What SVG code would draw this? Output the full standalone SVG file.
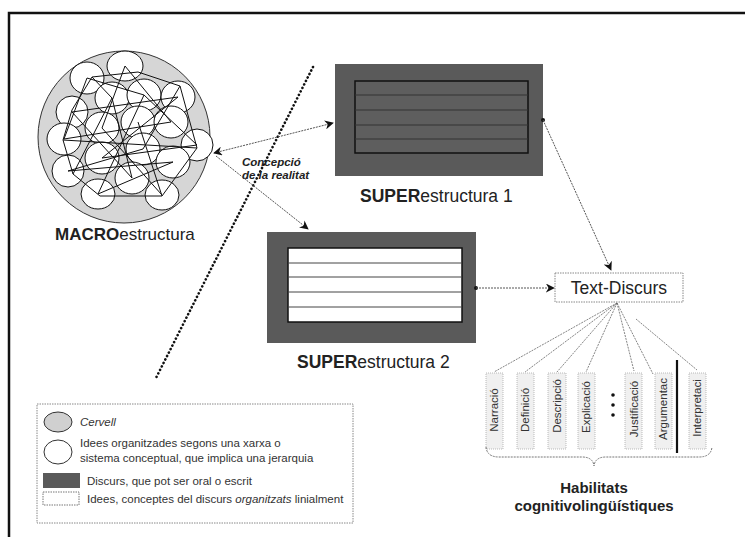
<svg xmlns="http://www.w3.org/2000/svg" width="745" height="537" viewBox="0 0 745 537">
<defs>
<style>
.t{font-family:"Liberation Sans",Arial,sans-serif;fill:#222}
.b{font-weight:bold}
.dark{fill:#5a5a5a}
.sm{fill:#fff;stroke:#111;stroke-width:1}
.net{fill:none;stroke:#111;stroke-width:1}
.conn{fill:none;stroke:#555;stroke-width:1;stroke-dasharray:2 1}
.fan{fill:none;stroke:#666;stroke-width:0.8;stroke-dasharray:2 1}
.lab{fill:#f0f0f0;stroke:#aaa;stroke-width:0.8;stroke-dasharray:1 1}
.lt{font-family:"Liberation Sans",Arial,sans-serif;font-size:11.5px;fill:#333}
</style>
<marker id="ah" viewBox="0 0 10 10" refX="9" refY="5" markerWidth="9" markerHeight="9" orient="auto-start-reverse" markerUnits="userSpaceOnUse">
<path d="M0,0 L10,5 L0,10 L3,5 z" fill="#111"/>
</marker>
</defs>
<rect width="745" height="537" fill="#fff"/>
<path d="M9,537 V13 H745" fill="none" stroke="#111" stroke-width="2.5"/>

<g id="macro">
<circle cx="124" cy="137" r="86" fill="#d6d6d6" stroke="#333" stroke-width="1"/>
<g>
<ellipse class="sm" cx="125" cy="66" rx="18" ry="15"/>
<ellipse class="sm" cx="87" cy="78" rx="17" ry="16"/>
<ellipse class="sm" cx="112" cy="98" rx="17" ry="16"/>
<ellipse class="sm" cx="144" cy="95" rx="17" ry="16"/>
<ellipse class="sm" cx="178" cy="97" rx="17" ry="16"/>
<ellipse class="sm" cx="72" cy="112" rx="16" ry="16"/>
<ellipse class="sm" cx="102" cy="128" rx="17" ry="16"/>
<ellipse class="sm" cx="138" cy="122" rx="17" ry="16"/>
<ellipse class="sm" cx="171" cy="122" rx="17" ry="16"/>
<ellipse class="sm" cx="64" cy="139" rx="17" ry="16"/>
<ellipse class="sm" cx="197" cy="145" rx="16" ry="16"/>
<ellipse class="sm" cx="143" cy="149" rx="17" ry="16"/>
<ellipse class="sm" cx="102" cy="158" rx="17" ry="16"/>
<ellipse class="sm" cx="173" cy="162" rx="17" ry="16"/>
<ellipse class="sm" cx="68" cy="171" rx="16" ry="16"/>
<ellipse class="sm" cx="132" cy="178" rx="17" ry="16"/>
<ellipse class="sm" cx="98" cy="194" rx="17" ry="15"/>
<ellipse class="sm" cx="162" cy="195" rx="17" ry="15"/>
</g>
<polygon class="net" points="92,77 138,72 180,86 197,148 162,196 100,196 73,174 63,140 72,110"/>
<path class="net" d="M87,78 L144,95 L197,145 M72,112 L178,97 M64,139 L171,122 M63,140 L197,148 M68,171 L143,149 M68,171 L173,162 M112,98 L132,178 M144,95 L98,194 M178,97 L102,158 M138,122 L162,196 M102,128 L162,195 M125,66 L102,128 M125,66 L171,122 M72,112 L132,178 M102,158 L197,145 M98,194 L173,162 M87,78 L64,139 M180,86 L143,149 M92,77 L112,98 L73,174"/>
<text class="t" x="55" y="240" font-size="17"><tspan class="b">MACRO</tspan>estructura</text>
</g>

<g id="super1">
<rect class="dark" x="335" y="64" width="208" height="112"/>
<rect x="355" y="81" width="173" height="72" fill="#5e5e5e" stroke="#111" stroke-width="1.5"/>
<path d="M355,95 H528 M355,110 H528 M355,125 H528 M355,139 H528" stroke="#333" stroke-width="1"/>
<circle cx="543" cy="120" r="2" fill="#111"/>
<text class="t" x="360" y="202" font-size="17.5"><tspan class="b">SUPER</tspan>estructura 1</text>
</g>

<g id="super2">
<rect class="dark" x="267" y="232" width="209" height="111"/>
<rect x="288" y="248" width="174" height="74" fill="#fff" stroke="#111" stroke-width="1.5"/>
<path d="M288,263 H462 M288,277 H462 M288,292 H462 M288,307 H462" stroke="#444" stroke-width="1"/>
<circle cx="476" cy="288" r="2" fill="#111"/>
<text class="t" x="297" y="368" font-size="17.5"><tspan class="b">SUPER</tspan>estructura 2</text>
</g>

<g id="textdiscurs">
<rect x="555" y="273" width="128" height="29" fill="#fff" stroke="#888" stroke-width="1" stroke-dasharray="1.5 1"/>
<text class="t" x="619" y="294" font-size="17.5" text-anchor="middle">Text-Discurs</text>
</g>

<g id="divider">
<line x1="313" y1="67" x2="156" y2="378" stroke="#111" stroke-width="2.6" stroke-dasharray="0.1 3.8" stroke-linecap="round"/>
</g>

<g id="concepcio">
<text class="t b" font-style="italic" font-size="11.5"><tspan x="242" y="166">Concepció</tspan><tspan x="242" y="179">de la realitat</tspan></text>
</g>

<g id="connectors">
<line class="conn" x1="214" y1="153" x2="333" y2="123" marker-start="url(#ah)" marker-end="url(#ah)"/>
<line class="conn" x1="216" y1="156" x2="308" y2="229" marker-end="url(#ah)"/>
<line class="conn" x1="543" y1="120" x2="611" y2="270" stroke="#777" marker-end="url(#ah)"/>
<line class="conn" x1="476" y1="288" x2="554" y2="288" marker-end="url(#ah)"/>
<g>
<line class="fan" x1="617" y1="303" x2="494" y2="372"/>
<line class="fan" x1="617" y1="303" x2="525" y2="372"/>
<line class="fan" x1="617" y1="303" x2="557" y2="372"/>
<line class="fan" x1="617" y1="303" x2="586" y2="372"/>
<line class="fan" x1="617" y1="303" x2="634" y2="371"/>
<line class="fan" x1="617" y1="303" x2="653" y2="374"/>
<line class="fan" x1="636" y1="319" x2="697" y2="370" stroke="#aaa"/>
</g>
</g>

<g id="habilitats">
<g>
<rect class="lab" x="486" y="373" width="17" height="76"/>
<rect class="lab" x="517" y="373" width="17" height="76"/>
<rect class="lab" x="548" y="373" width="18" height="76"/>
<rect class="lab" x="578" y="373" width="17" height="76"/>
<rect class="lab" x="625" y="373" width="17" height="76"/>
<rect class="lab" x="655" y="373" width="17" height="76"/>
<rect class="lab" x="689" y="373" width="17" height="76"/>
</g>
<g class="lt" text-anchor="middle">
<text transform="translate(498,410) rotate(-90)">Narració</text>
<text transform="translate(529,410) rotate(-90)">Definició</text>
<text transform="translate(561,406) rotate(-90)">Descripció</text>
<text transform="translate(590,407) rotate(-90)">Explicació</text>
<text transform="translate(638,409) rotate(-90)">Justificació</text>
<text transform="translate(667,409) rotate(-90)">Argumentac</text>
<text transform="translate(701,408) rotate(-90)">Interpretaci</text>
</g>
<circle cx="613" cy="395" r="1.8" fill="#111"/>
<circle cx="613" cy="405" r="1.8" fill="#111"/>
<circle cx="613" cy="415" r="1.8" fill="#111"/>
<line x1="677" y1="360" x2="677" y2="453" stroke="#111" stroke-width="2.2"/>
<path d="M486,447 Q487,457 499,457 L582,457 Q593,457 594,466 Q595,457 606,457 L699,457 Q711,457 712,447" fill="none" stroke="#777" stroke-width="1" stroke-dasharray="2 1"/>
<text class="t b" font-size="15" text-anchor="middle"><tspan x="594" y="493">Habilitats</tspan><tspan x="594" y="511">cognitivolingüístiques</tspan></text>
</g>

<g id="legend">
<rect x="37" y="404" width="316" height="119" fill="#fff" stroke="#888" stroke-width="1" stroke-dasharray="1.5 1"/>
<ellipse cx="58" cy="422" rx="14" ry="10" fill="#d0d0d0" stroke="#333" stroke-width="1"/>
<text class="lt" x="80" y="426" font-style="italic">Cervell</text>
<ellipse cx="58" cy="452" rx="14" ry="12" fill="#fff" stroke="#333" stroke-width="1"/>
<text class="lt"><tspan x="80" y="447">Idees organitzades segons una xarxa o</tspan><tspan x="80" y="462">sistema conceptual, que implica una jerarquia</tspan></text>
<rect class="dark" x="43" y="473" width="37" height="15"/>
<text class="lt" x="87" y="485">Discurs, que pot ser oral o escrit</text>
<rect x="43" y="492" width="36" height="13" fill="#fff" stroke="#777" stroke-width="1" stroke-dasharray="1.5 1"/>
<text class="lt" x="87" y="503">Idees, conceptes del discurs <tspan font-style="italic">organitzats</tspan> linialment</text>
</g>
</svg>
